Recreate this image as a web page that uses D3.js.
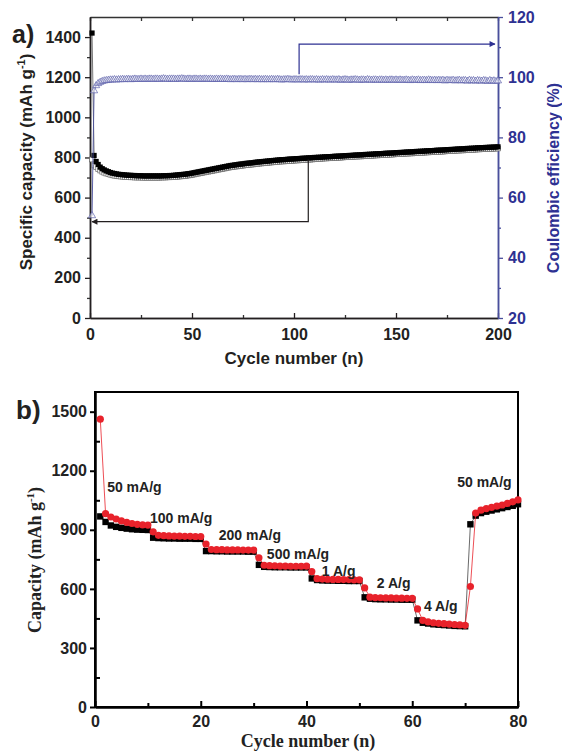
<!DOCTYPE html>
<html>
<head>
<meta charset="utf-8">
<script src="https://cdn.jsdelivr.net/npm/d3@7"></script>
<style>
  body { margin:0; background:#fff; }
  svg text { font-family:"Liberation Sans", Arial, sans-serif; font-weight:bold; }
</style>
</head>
<body>
<div id="chart"></div>
<script>
// ---- panel a: long cycling ----
var capDischarge = [
  1420,810,780,765,752,744,738,733,729,725,
  722,720,718,716,715,714,713,712,711,711,
  710,710,709,709,709,708,708,708,708,708,
  708,708,708,708,708,709,709,709,710,710,
  711,712,713,714,715,716,717,719,720,722,
  724,726,728,730,732,734,736,738,740,742,
  744,746,748,750,752,754,756,758,760,761,
  763,764,766,767,768,770,771,772,773,774,
  776,777,778,779,780,781,782,783,784,785,
  786,787,788,789,789,790,791,792,792,793,
  794,794,795,796,796,797,798,798,799,800,
  800,801,801,802,803,803,804,804,805,806,
  806,807,807,808,809,809,810,810,811,812,
  812,813,813,814,815,815,816,816,817,818,
  818,819,819,820,821,821,822,822,823,824,
  824,825,825,826,827,827,828,828,829,830,
  830,831,831,832,833,833,834,834,835,836,
  836,837,837,838,839,839,840,840,841,842,
  842,843,843,844,845,845,846,846,847,848,
  848,849,849,850,850,851,851,852,852,853
];
var capCharge = [
  790,760,752,742,735,729,724,720,717,714,
  711,709,707,706,705,704,703,702,702,701,
  701,700,700,700,700,699,699,699,699,699,
  699,699,699,699,700,700,700,701,701,702,
  702,703,704,705,706,707,708,710,711,713,
  715,717,719,721,723,725,727,729,731,733,
  735,737,739,741,743,745,747,749,751,752,
  754,755,757,758,759,761,762,763,764,765,
  767,768,769,770,771,772,773,774,775,776,
  777,778,779,780,780,781,782,783,783,784,
  785,785,786,787,787,788,789,789,790,791,
  792,793,793,794,795,795,796,796,797,798,
  798,799,799,800,801,801,802,802,803,804,
  804,805,805,806,807,807,808,808,809,810,
  810,811,811,812,813,813,814,814,815,816,
  816,817,817,818,819,819,820,820,821,822,
  822,823,823,824,825,825,826,826,827,828,
  828,829,829,830,831,831,832,832,833,834,
  834,835,835,836,837,837,838,838,839,840,
  840,841,841,842,842,843,843,844,844,845
];
var coulombic = [
  54,95.5,97.2,97.9,98.3,98.6,98.8,98.9,99.0,99.1,
  99.1,99.2,99.1,99.2,99.2,99.3,99.2,99.3,99.3,99.2,
  99.3,99.4,99.3,99.3,99.4,99.3,99.4,99.3,99.4,99.4,
  99.3,99.4,99.4,99.3,99.4,99.5,99.4,99.3,99.4,99.4,
  99.4,99.3,99.4,99.4,99.5,99.4,99.3,99.4,99.4,99.3,
  99.4,99.4,99.3,99.4,99.3,99.4,99.4,99.3,99.4,99.3,
  99.3,99.4,99.3,99.4,99.3,99.3,99.4,99.3,99.2,99.3,
  99.3,99.2,99.3,99.3,99.2,99.3,99.2,99.3,99.3,99.2,
  99.3,99.2,99.3,99.2,99.2,99.3,99.2,99.2,99.3,99.2,
  99.2,99.3,99.2,99.1,99.2,99.2,99.3,99.2,99.1,99.2,
  99.2,99.1,99.2,99.2,99.1,99.2,99.1,99.2,99.2,99.1,
  99.2,99.1,99.1,99.2,99.1,99.2,99.1,99.1,99.2,99.1,
  99.1,99.2,99.0,99.1,99.2,99.1,99.0,99.1,99.1,99.2,
  99.1,99.0,99.1,99.1,99.0,99.2,99.1,99.0,99.1,99.1,
  99.0,99.1,99.1,99.0,99.1,99.0,99.1,99.1,99.0,99.1,
  99.0,99.1,99.0,99.0,99.1,99.0,98.9,99.1,99.0,99.0,
  99.1,98.9,99.0,99.0,98.9,99.1,99.0,98.9,99.0,98.9,
  99.0,98.9,99.0,98.8,99.0,98.9,98.9,99.0,98.8,98.9,
  99.0,98.8,98.9,98.9,98.7,99.0,98.8,98.9,98.7,98.9,
  98.8,98.7,98.9,98.8,98.6,98.9,98.7,98.8,98.6,98.8
];
var aXTicks = [0,50,100,150,200];
var aYTicks = [0,200,400,600,800,1000,1200,1400];
var aCETicks = [20,40,60,80,100,120];

// ---- panel b: rate capability ----
var rateDischarge = [
  1462,982,965,955,945,938,932,928,925,924,
  890,872,870,869,868,868,867,867,866,866,
  828,800,799,799,798,798,798,797,797,797,
  758,720,718,717,716,716,715,715,715,716,
  688,652,650,649,648,648,647,647,646,646,
  605,558,556,555,554,554,553,553,552,552,
  498,440,432,428,425,423,421,419,417,415,
  612,985,1000,1008,1014,1020,1026,1034,1042,1052
];
var rateCharge = [
  968,940,922,915,910,906,903,901,900,899,
  860,858,857,856,856,855,855,855,854,854,
  792,792,791,791,790,790,790,790,789,789,
  722,712,711,710,710,710,709,709,709,709,
  653,645,643,642,642,641,641,640,640,640,
  557,550,548,547,547,546,546,545,545,545,
  440,428,424,420,418,416,414,412,411,410,
  928,972,985,992,998,1004,1010,1016,1022,1030
];
var rateLabels = [
  {text:"50 mA/g", cycle:2.3, cap:1092},
  {text:"100 mA/g", cycle:10.4, cap:935},
  {text:"200 mA/g", cycle:23.4, cap:847},
  {text:"500 mA/g", cycle:32.5, cap:750},
  {text:"1 A/g", cycle:42.9, cap:665},
  {text:"2 A/g", cycle:53.3, cap:605},
  {text:"4 A/g", cycle:62.2, cap:488},
  {text:"50 mA/g", cycle:68.5, cap:1118}
];
var bXTicks = [0,20,40,60,80];
var bYTicks = [0,300,600,900,1200,1500];

var ink = "#231f20", blue = "#2e3192", red = "#e8222b";
var fmt = d3.format("d");

var svg = d3.select("#chart").append("svg")
  .attr("width",562).attr("height",753);

var defs = svg.append("defs");
[["arrK",ink],["arrB",blue]].forEach(function(m) {
  defs.append("marker").attr("id",m[0])
    .attr("viewBox","0 0 10 10").attr("refX",9).attr("refY",5)
    .attr("markerWidth",8).attr("markerHeight",6).attr("orient","auto")
    .attr("markerUnits","userSpaceOnUse")
    .append("path").attr("d","M0,0L10,5L0,10Z").attr("fill",m[1]);
});

// ===================== panel a =====================
var xA = d3.scaleLinear().domain([0,200]).range([90,498]);
var yA = d3.scaleLinear().domain([0,1500]).range([318,17]);
var yCE = d3.scaleLinear().domain([20,120]).range([318,17]);

var gA = svg.append("g");

function styleAxis(g, col) {
  g.selectAll("path.domain").attr("stroke",col).attr("stroke-width",1.5);
  g.selectAll(".tick line").attr("stroke",col).attr("stroke-width",1.3);
  g.selectAll("text").attr("fill",col).style("font-size","16px")
    .style("font-family","'Liberation Sans', Arial, sans-serif").style("font-weight","bold");
}

// top spine with inward ticks
gA.append("g").attr("transform","translate(0,17)")
  .call(d3.axisTop(xA).tickValues(d3.range(0,201,25)).tickSize(-4).tickSizeOuter(0).tickFormat(""))
  .call(styleAxis, "#333");

// bottom axis
gA.append("g").attr("transform","translate(0,318)")
  .call(d3.axisBottom(xA).tickValues(d3.range(25,200,50)).tickSize(-3).tickSizeOuter(0).tickFormat(""))
  .call(styleAxis, "#333");
gA.append("g").attr("transform","translate(0,318)")
  .call(d3.axisBottom(xA).tickValues(aXTicks).tickSize(-5).tickPadding(11).tickSizeOuter(0).tickFormat(fmt))
  .call(styleAxis, ink);

// left axis
gA.append("g").attr("transform","translate(90,0)")
  .call(d3.axisLeft(yA).tickValues(d3.range(100,1500,200)).tickSize(3).tickSizeOuter(0).tickFormat(""))
  .call(styleAxis, "#333");
gA.append("g").attr("transform","translate(90,0)")
  .call(d3.axisLeft(yA).tickValues(aYTicks).tickSize(5).tickPadding(4).tickSizeOuter(0).tickFormat(fmt))
  .call(styleAxis, ink);

// right axis (blue)
gA.append("g").attr("transform","translate(498,0)")
  .call(d3.axisRight(yCE).tickValues(d3.range(30,120,20)).tickSize(3).tickSizeOuter(0).tickFormat(""))
  .call(styleAxis, "#4a4f9c");
gA.append("g").attr("transform","translate(498,0)")
  .call(d3.axisRight(yCE).tickValues(aCETicks).tickSize(5).tickPadding(5).tickSizeOuter(0).tickFormat(fmt))
  .call(styleAxis, "#4a4f9c")
  .selectAll("text").attr("fill",blue);

// capacity line + squares
gA.append("path")
  .datum(capDischarge)
  .attr("fill","none").attr("stroke","#555").attr("stroke-width",0.8)
  .attr("d", d3.line().x(function(d,i){ return xA(i+1); }).y(function(d){ return yA(d); }));

gA.append("g").selectAll("rect.chg")
  .data(capCharge).enter().append("rect")
  .attr("x", function(d,i){ return xA(i+1)-2.4; })
  .attr("y", function(d){ return yA(d)-2.4; })
  .attr("width",4.8).attr("height",4.8)
  .attr("fill","#fff").attr("stroke","#666").attr("stroke-width",0.7);

gA.append("g").selectAll("rect.dis")
  .data(capDischarge).enter().append("rect")
  .attr("x", function(d,i){ return xA(i+1)-2.6; })
  .attr("y", function(d){ return yA(d)-2.6; })
  .attr("width",5.2).attr("height",5.2)
  .attr("fill","#000");

// coulombic efficiency
gA.append("path")
  .datum(coulombic)
  .attr("fill","none").attr("stroke","#4a4f9c").attr("stroke-width",0.9)
  .attr("d", d3.line().x(function(d,i){ return xA(i+1); }).y(function(d){ return yCE(d); }));

var tri = d3.symbol().type(d3.symbolTriangle).size(22);
gA.append("g").selectAll("path.ce")
  .data(coulombic).enter().append("path")
  .attr("d", tri)
  .attr("transform", function(d,i){ return "translate(" + xA(i+1) + "," + yCE(d) + ")"; })
  .attr("fill","#fff").attr("fill-opacity",0.5)
  .attr("stroke","#5b60aa").attr("stroke-width",0.7);

// arrows pointing to each axis
var capArrow = [[107,790],[107,480],[1,480]];
var ceArrow = [[102.5,101],[102.5,111],[198.5,111]];
gA.append("path")
  .attr("d", d3.line()(capArrow.map(function(p){ return [xA(p[0]), yA(p[1])]; })))
  .attr("fill","none").attr("stroke",ink).attr("stroke-width",1.2)
  .attr("marker-end","url(#arrK)");
gA.append("path")
  .attr("d", d3.line()(ceArrow.map(function(p){ return [xA(p[0]), yCE(p[1])]; })))
  .attr("fill","none").attr("stroke",blue).attr("stroke-width",1.2)
  .attr("marker-end","url(#arrB)");

// labels
svg.append("text").attr("x",12).attr("y",43).attr("fill",ink)
  .style("font-size","25px").text("a)");

var yl = svg.append("text").attr("transform","translate(32,162) rotate(-90)")
  .attr("text-anchor","middle").attr("fill",ink).style("font-size","17px");
yl.append("tspan").text("Specific capacity (mAh g");
yl.append("tspan").attr("dy",-7).style("font-size","11px").text("-1");
yl.append("tspan").attr("dy",7).text(")");

svg.append("text").attr("transform","translate(559,178) rotate(-90)")
  .attr("text-anchor","middle").attr("fill",blue).style("font-size","16px")
  .text("Coulombic efficiency (%)");

svg.append("text").attr("x",294).attr("y",364).attr("text-anchor","middle")
  .attr("fill",ink).style("font-size","17px").text("Cycle number (n)");

// ===================== panel b =====================
var xB = d3.scaleLinear().domain([0,80]).range([95,518]);
var yB = d3.scaleLinear().domain([0,1600]).range([707,392]);
var gB = svg.append("g");

// frame
gB.append("rect").attr("x",95).attr("y",392).attr("width",423).attr("height",315)
  .attr("fill","none").attr("stroke","#000").attr("stroke-width",2);

gB.append("g").attr("transform","translate(0,707)")
  .call(d3.axisBottom(xB).tickValues(d3.range(10,80,20)).tickSize(-4).tickSizeOuter(0).tickFormat(""))
  .call(styleAxis, "#000");
gB.append("g").attr("transform","translate(0,707)")
  .call(d3.axisBottom(xB).tickValues(bXTicks).tickSize(-6).tickPadding(9).tickSizeOuter(0).tickFormat(fmt))
  .call(styleAxis, "#000");
gB.append("g").attr("transform","translate(95,0)")
  .call(d3.axisLeft(yB).tickValues(d3.range(150,1600,300)).tickSize(-5).tickSizeOuter(0).tickFormat(""))
  .call(styleAxis, "#000");
gB.append("g").attr("transform","translate(95,0)")
  .call(d3.axisLeft(yB).tickValues(bYTicks).tickSize(5).tickPadding(3).tickSizeOuter(0).tickFormat(fmt))
  .call(styleAxis, "#000");
gB.selectAll("path.domain").attr("stroke-width",2);
gB.selectAll(".tick line").attr("stroke-width",2);
gB.selectAll(".tick text").attr("fill","#222");

var lineB = d3.line().x(function(d,i){ return xB(i+1); }).y(function(d){ return yB(d); });

gB.append("path").datum(rateCharge).attr("d",lineB)
  .attr("fill","none").attr("stroke","#444").attr("stroke-width",0.8);
gB.append("g").selectAll("rect")
  .data(rateCharge).enter().append("rect")
  .attr("x", function(d,i){ return xB(i+1)-3.2; })
  .attr("y", function(d){ return yB(d)-3.2; })
  .attr("width",6.4).attr("height",6.4).attr("fill","#000");

gB.append("path").datum(rateDischarge).attr("d",lineB)
  .attr("fill","none").attr("stroke",red).attr("stroke-width",0.8);
gB.append("g").selectAll("circle")
  .data(rateDischarge).enter().append("circle")
  .attr("cx", function(d,i){ return xB(i+1); })
  .attr("cy", function(d){ return yB(d); })
  .attr("r",3.6).attr("fill",red);

gB.append("g").selectAll("text")
  .data(rateLabels).enter().append("text")
  .attr("x", function(d){ return xB(d.cycle); })
  .attr("y", function(d){ return yB(d.cap); })
  .attr("fill","#222").style("font-size","14px")
  .text(function(d){ return d.text; });

svg.append("text").attr("x",16).attr("y",419).attr("fill","#222")
  .style("font-size","26px").text("b)");

var ylb = svg.append("text").attr("transform","translate(41,560) rotate(-90)")
  .attr("text-anchor","middle").attr("fill","#222")
  .style("font-family","'Liberation Serif', 'Times New Roman', serif").style("font-size","18px");
ylb.append("tspan").text("Capacity (mAh g");
ylb.append("tspan").attr("dy",-7).style("font-size","11px").text("-1");
ylb.append("tspan").attr("dy",7).text(")");

svg.append("text").attr("x",308).attr("y",747).attr("text-anchor","middle")
  .attr("fill","#222")
  .style("font-family","'Liberation Serif', 'Times New Roman', serif").style("font-size","18px")
  .text("Cycle number (n)");
</script>
</body>
</html>
